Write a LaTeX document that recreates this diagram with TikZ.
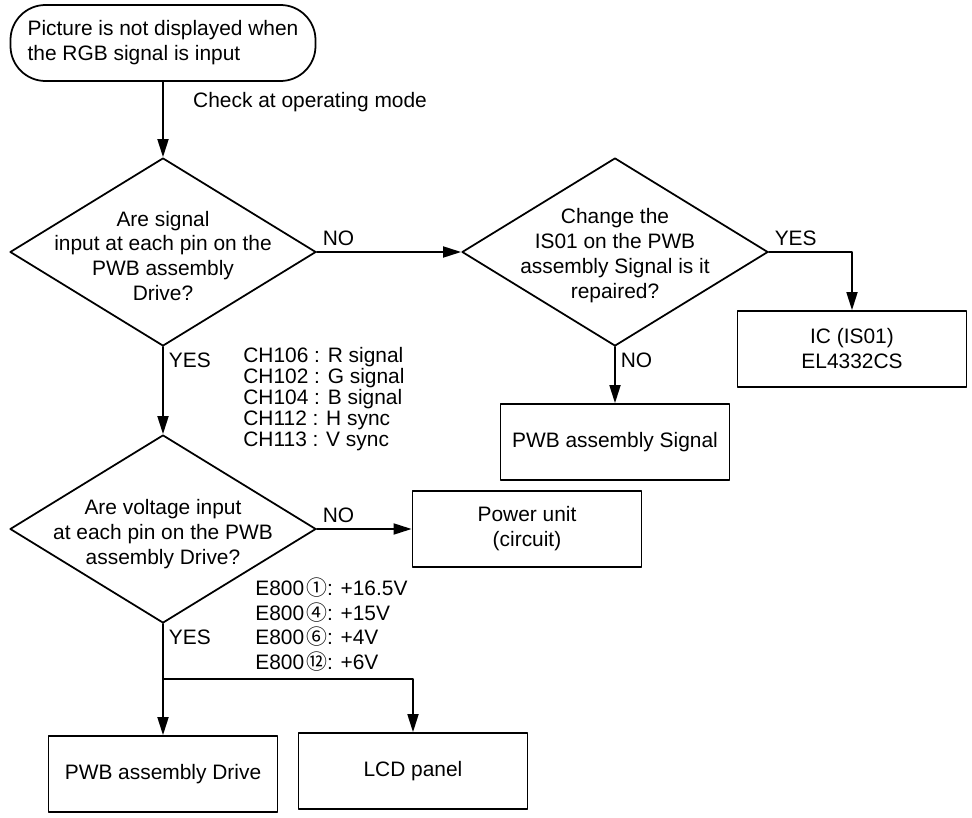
\documentclass[tikz,border=0pt]{standalone}
\usepackage{fontspec}
\setmainfont{Liberation Sans}
\newfontfamily\cjk{Noto Sans CJK JP}
\usetikzlibrary{shapes.geometric}
\usetikzlibrary{arrows.meta}

\begin{document}
\begin{tikzpicture}[line cap=round,line join=round,>={Triangle[length=3.6mm,width=2.2mm]},x=0.2mm,y=-0.2mm,
  every node/.style={font=\fontsize{11.9}{14.2}\selectfont},
  startbox/.style={draw,line width=1pt,rounded corners=7mm,minimum width=61mm,minimum height=15.2mm,align=left},
  decision/.style={draw,diamond,line width=1pt,minimum width=61.2mm,minimum height=37.6mm,inner sep=0pt},
  qtext/.style={align=center},
  endbox/.style={draw,line width=1pt,minimum width=45.8mm,minimum height=15.2mm,align=center},
  lbl/.style={inner sep=1mm},
  note/.style={align=left,inner sep=0pt},
  flow/.style={->,line width=1pt}]
\useasboundingbox (0,0) rectangle (972,818);
\node[startbox] (start) at (163,43) {Picture is not displayed when\\the RGB signal is input};
\node[anchor=west] (chk) at (187,102) {Check at operating mode};
\node[decision] (q1) at (163,252) {};
\node[qtext] (q1t) at (163,256) {Are signal\\input at each pin on the\\PWB assembly\\Drive?};
\node[decision] (q2) at (615,252) {};
\node[qtext] (q2t) at (615,256) {Change the\\IS01 on the PWB\\assembly Signal is it\\repaired?};
\node[endbox] (ic) at (852,349) {IC (IS01)\\EL4332CS};
\node[endbox] (sig) at (615,442) {PWB assembly Signal};
\node[note,anchor=north west,font=\fontsize{11.9}{11.9}\selectfont] (chlist) at (243,347) {CH106 : R signal\\CH102 : G signal\\CH104 : B signal\\CH112 : H sync\\CH113 : V sync};
\node[decision] (q3) at (163,529) {};
\node[qtext] (q3t) at (163,534) {Are voltage input\\at each pin on the PWB\\assembly Drive?};
\node[endbox] (pwr) at (527,529) {Power unit\\(circuit)};
\node[note,anchor=north west] (elist) at (255,577) {E800\hspace{0.4mm}{\cjk ①}: +16.5V\\E800\hspace{0.4mm}{\cjk ④}: +15V\\E800\hspace{0.4mm}{\cjk ⑥}: +4V\\E800\hspace{0.4mm}{\cjk ⑫}: +6V};
\node[endbox] (drv) at (163,774) {PWB assembly Drive};
\node[endbox] (lcd) at (413,771) {LCD panel};
\coordinate (fork) at (163,679);
\draw[flow] (start.south) -- (q1.north);
\draw[flow] (q1.east) -- node[lbl,anchor=south west,pos=0] (no1) {NO} (q2.west);
\draw[flow] (q1.south) -- node[lbl,anchor=north west,pos=0] (yes1) {YES} (q3.north);
\draw[flow] (q2.east) -- node[lbl,anchor=south west,pos=0] (yes2) {YES} (q2.east -| ic.north) -- (ic.north);
\draw[flow] (q2.south) -- node[lbl,anchor=north west,pos=0] (no2) {NO} (sig.north);
\draw[flow] (q3.east) -- node[lbl,anchor=south west,pos=0] (no3) {NO} (pwr.west);
\draw[line width=1pt] (q3.south) -- node[lbl,anchor=north west,pos=0] (yes3) {YES} (fork);
\draw[flow] (fork) -- (drv.north);
\draw[flow] (fork) -| (lcd.north);
\end{tikzpicture}
\end{document}
